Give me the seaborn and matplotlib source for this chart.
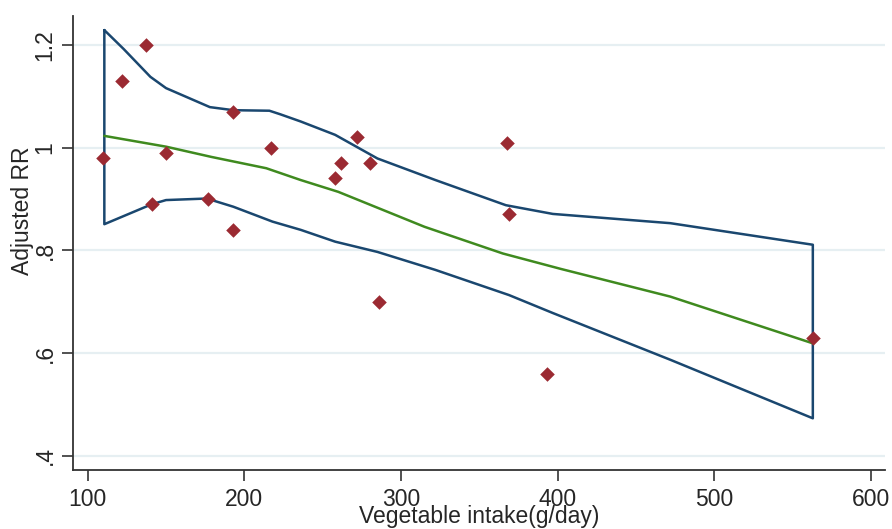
import matplotlib
matplotlib.use("Agg")
import matplotlib.pyplot as plt
import seaborn as sns
import pandas as pd

# Observed study points
veg_x = [110, 122, 137, 141, 150, 177, 193, 193, 217, 258, 262, 272, 280, 286, 368, 369, 393, 563]
adj_rr = [0.98, 1.13, 1.20, 0.89, 0.99, 0.90, 1.07, 0.84, 1.00, 0.94, 0.97, 1.02, 0.97, 0.70, 1.01, 0.87, 0.56, 0.63]

# Fitted dose-response curve
fit_x = [110.6, 150, 179, 214, 236, 260, 315, 365, 402, 472, 563]
fit_y = [1.023, 1.002, 0.982, 0.960, 0.937, 0.914, 0.846, 0.794, 0.764, 0.710, 0.619]

# Confidence bounds
upper_x = [110.6, 123, 140, 150, 178, 193, 216, 223, 236, 258, 285, 322, 367, 397, 472, 563]
upper_y = [1.229, 1.192, 1.138, 1.116, 1.079, 1.073, 1.072, 1.065, 1.051, 1.025, 0.979, 0.937, 0.888, 0.871, 0.853, 0.811]
lower_x = [110.6, 141, 150, 176, 193, 218, 236, 258, 285, 322, 369, 397, 472, 563]
lower_y = [0.851, 0.890, 0.898, 0.901, 0.885, 0.856, 0.840, 0.817, 0.797, 0.762, 0.713, 0.678, 0.587, 0.473]

x_ticks = [100, 200, 300, 400, 500, 600]
y_ticks = [0.4, 0.6, 0.8, 1.0, 1.2]
y_tick_labels = [".4", ".6", ".8", "1", "1.2"]

NAVY = "#1a476f"
GREEN = "#3f8a1f"
MAROON = "#9b2a32"

sns.set_theme(style="white")
plt.rcParams["font.family"] = ["Liberation Sans", "DejaVu Sans"]

fig = plt.figure(figsize=(8.92, 5.29), dpi=100)
ax = fig.add_axes([0.0822, 0.1115, 0.9098, 0.8583])

# CI band as one closed outline: upper forward, lower backward
ci_x = upper_x + lower_x[::-1] + [upper_x[0]]
ci_y = upper_y + lower_y[::-1] + [upper_y[0]]
ci_df = pd.DataFrame({"x": ci_x, "y": ci_y})
fit_df = pd.DataFrame({"x": fit_x, "y": fit_y})
pts_df = pd.DataFrame({"x": veg_x, "y": adj_rr})

for yt in y_ticks:
    ax.axhline(yt, color="#e6eff2", lw=1.6, zorder=0)

sns.lineplot(data=ci_df, x="x", y="y", sort=False, estimator=None,
             color=NAVY, lw=1.8, ax=ax, zorder=2)
sns.lineplot(data=fit_df, x="x", y="y", sort=False, estimator=None,
             color=GREEN, lw=1.8, ax=ax, zorder=3)
sns.scatterplot(data=pts_df, x="x", y="y", marker="D", s=55, color=MAROON,
                linewidth=0, ax=ax, zorder=4)

ax.set_xlim(90.8, 609)
ax.set_ylim(0.3723, 1.2565)
ax.set_xticks(x_ticks)
ax.set_yticks(y_ticks)
ax.set_yticklabels(y_tick_labels, rotation=90, va="center")
ax.tick_params(axis="both", direction="out", length=8, width=1.2, color="#333333",
               labelsize=16.5, bottom=True, left=True)
ax.tick_params(axis="x", pad=5)
ax.tick_params(axis="y", pad=4)
ax.set_xlabel("Vegetable intake(g/day)", fontsize=16.5, va="bottom")
ax.xaxis.set_label_coords(0.5, -0.1285)
ax.set_ylabel("Adjusted RR", fontsize=16.5)
ax.yaxis.set_label_coords(-0.0484, 0.570)

for s in ["top", "right"]:
    ax.spines[s].set_visible(False)
for s in ["left", "bottom"]:
    ax.spines[s].set_color("#333333")
    ax.spines[s].set_linewidth(1.3)
ax.grid(False)

fig.savefig("out.png", dpi=100)
